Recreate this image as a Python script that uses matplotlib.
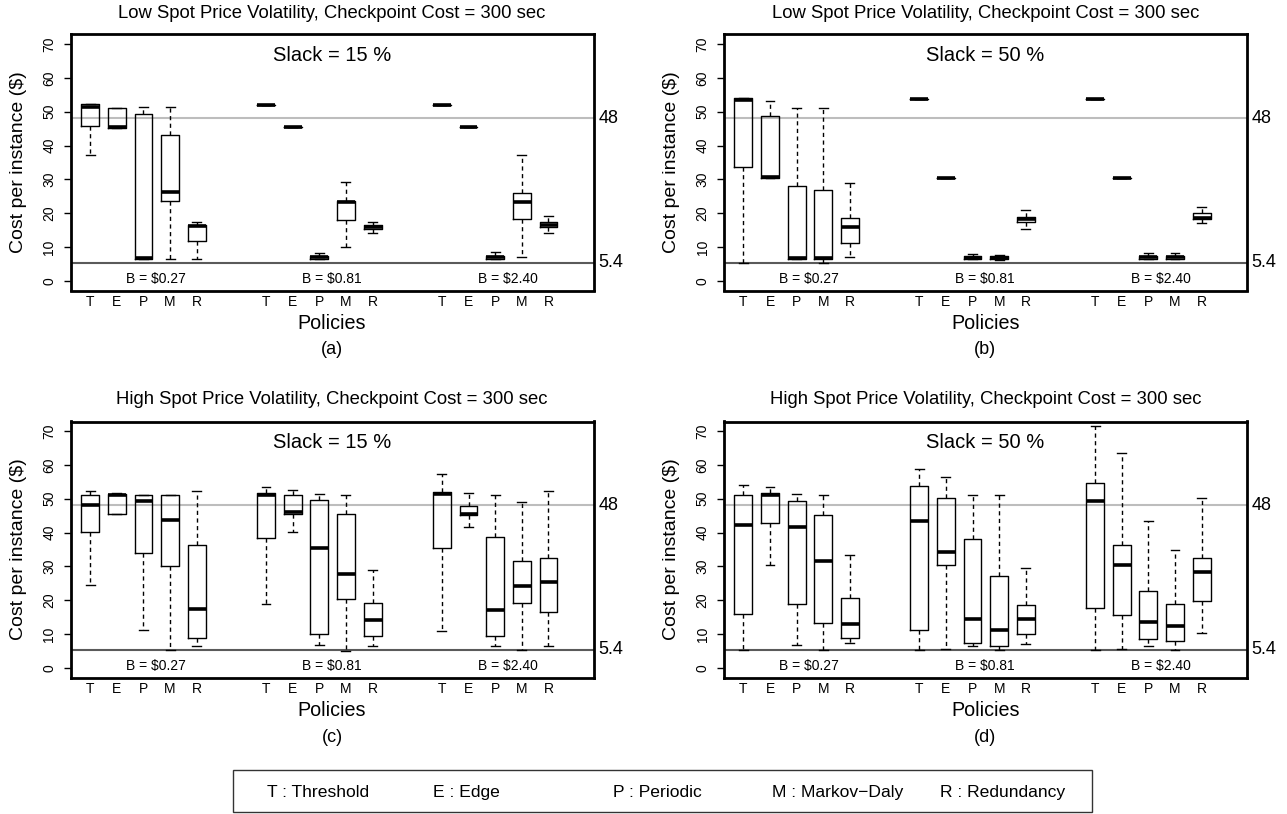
"""
Cost per instance box plots: 4 panels (low/high spot price volatility,
slack 15 % / 50 %), five checkpoint policies for three bid prices.
"""

import matplotlib
matplotlib.use("Agg")
import matplotlib.pyplot as plt
import matplotlib.transforms as mtransforms
from matplotlib.patches import Rectangle

# ── 1. Data ─────────────────────────────────────────────────────
POLICIES = ["T", "E", "P", "M", "R"]
BUDGETS = ["B = $0.27", "B = $0.81", "B = $2.40"]
TITLES = [
    "Low Spot Price Volatility, Checkpoint Cost = 300 sec",
    "Low Spot Price Volatility, Checkpoint Cost = 300 sec",
    "High Spot Price Volatility, Checkpoint Cost = 300 sec",
    "High Spot Price Volatility, Checkpoint Cost = 300 sec",
]
SLACKS = ["Slack = 15 %", "Slack = 50 %", "Slack = 15 %", "Slack = 50 %"]
TAGS = ["(a)", "(b)", "(c)", "(d)"]
REF_HIGH = 48
REF_LOW = 5.4
LEGEND_LABELS = ["T : Threshold", "E : Edge", "P : Periodic",
                 "M : Markov\u2212Daly", "R : Redundancy"]

# each list = T E P M R for B=$0.27, then B=$0.81, then B=$2.40
A_LO = [37.3, 45.3, 6.5, 6.4, 6.5, 52.0, 45.4, 6.5, 10.0, 14.3, 52.0, 45.4, 6.4, 7.1, 14.3]
A_Q1 = [45.7, 45.3, 6.5, 23.7, 11.9, 52.0, 45.4, 6.5, 17.9, 15.4, 52.0, 45.4, 6.4, 18.4, 15.9]
A_MED = [51.4, 45.5, 6.7, 26.2, 16.1, 52.0, 45.4, 7.0, 23.3, 15.9, 52.0, 45.4, 7.1, 23.3, 16.5]
A_Q3 = [52.2, 51.0, 49.3, 43.1, 16.4, 52.0, 45.4, 7.4, 23.6, 16.5, 52.0, 45.4, 7.5, 26.1, 17.5]
A_HI = [52.2, 51.2, 51.4, 51.4, 17.5, 52.0, 45.4, 8.3, 29.2, 17.5, 52.0, 45.4, 8.6, 37.2, 19.2]

B_LO = [5.3, 30.3, 6.5, 5.3, 7.2, 53.8, 30.5, 6.4, 6.2, 15.3, 53.8, 30.5, 6.4, 6.4, 17.1]
B_Q1 = [33.6, 30.3, 6.5, 6.5, 11.1, 53.8, 30.5, 6.4, 6.4, 17.5, 53.8, 30.5, 6.4, 6.4, 18.3]
B_MED = [53.6, 30.6, 6.8, 6.8, 15.9, 53.8, 30.5, 6.9, 6.9, 18.4, 53.8, 30.5, 7.0, 7.1, 18.7]
B_Q3 = [54.0, 48.7, 28.2, 26.9, 18.6, 53.8, 30.5, 7.3, 7.3, 19.0, 53.8, 30.5, 7.4, 7.5, 20.1]
B_HI = [54.0, 53.3, 51.2, 51.2, 28.8, 53.8, 30.5, 7.9, 7.6, 20.9, 53.8, 30.5, 8.3, 8.3, 21.8]

C_LO = [24.5, 45.4, 11.3, 5.4, 6.5, 19.0, 40.1, 6.8, 5.1, 6.4, 11.0, 41.6, 6.6, 5.2, 6.4]
C_Q1 = [40.1, 45.4, 34.0, 30.1, 8.9, 38.4, 45.5, 9.9, 20.4, 9.6, 35.5, 45.2, 9.6, 19.3, 16.5]
C_MED = [48.1, 51.1, 49.2, 43.7, 17.5, 51.2, 46.1, 35.5, 27.9, 14.1, 51.3, 45.6, 17.1, 24.1, 25.5]
C_Q3 = [51.1, 51.5, 51.1, 51.1, 36.3, 51.6, 51.2, 49.7, 45.6, 19.3, 52.0, 47.8, 38.6, 31.6, 32.6]
C_HI = [52.2, 51.7, 51.2, 51.2, 52.4, 53.6, 52.7, 51.4, 51.2, 29.0, 57.4, 51.6, 51.2, 48.9, 52.2]

D_LO = [5.4, 30.4, 6.7, 5.4, 7.4, 5.4, 5.6, 6.6, 5.4, 7.1, 5.4, 5.6, 6.6, 5.2, 10.2]
D_Q1 = [16.0, 42.7, 18.9, 13.4, 8.9, 11.2, 30.4, 7.5, 6.4, 10.1, 17.6, 15.7, 8.7, 8.1, 19.9]
D_MED = [42.2, 51.2, 41.7, 31.5, 12.9, 43.4, 34.3, 14.5, 11.1, 14.4, 49.4, 30.5, 13.6, 12.4, 28.3]
D_Q3 = [51.2, 51.7, 49.2, 45.1, 20.7, 53.8, 50.2, 38.2, 27.1, 18.7, 54.7, 36.3, 22.6, 19.0, 32.6]
D_HI = [54.0, 53.6, 51.4, 51.2, 33.5, 58.9, 56.3, 51.1, 51.1, 29.6, 71.4, 63.6, 43.4, 35.0, 50.3]

PANELS = [
    (A_LO, A_Q1, A_MED, A_Q3, A_HI),
    (B_LO, B_Q1, B_MED, B_Q3, B_HI),
    (C_LO, C_Q1, C_MED, C_Q3, C_HI),
    (D_LO, D_Q1, D_MED, D_Q3, D_HI),
]

# ── 2. Layout (pixels of a 1287 x 814 canvas) ───────────────────
DPI = 100
FIG_W, FIG_H = 1287, 814
AX_W, AX_H = 523, 256
AX_LEFT = [70.6, 723.8, 70.6, 723.8]
AX_TOP = [34.5, 34.5, 421.5, 421.5]
TITLE_GAP = [16, 16, 18, 18]

GROUP_STEP = 6.6
POS = [1 + g * GROUP_STEP + i for g in range(len(BUDGETS)) for i in range(len(POLICIES))]
XLIM = (0.265, 19.895)
YLIM = (-2.8, 72.8)
BOX_W = 0.67

plt.rcParams.update({
    "font.family": ["Liberation Sans", "DejaVu Sans"],
    "axes.linewidth": 2.0,
    "figure.facecolor": "white",
})

fig = plt.figure(figsize=(FIG_W / DPI, FIG_H / DPI), dpi=DPI)


def shifted(ax, dx_px, dy_px, base=None):
    base = ax.transAxes if base is None else base
    return base + mtransforms.ScaledTranslation(dx_px / DPI, dy_px / DPI, fig.dpi_scale_trans)


for k, (lo, q1, med, q3, hi) in enumerate(PANELS):
    rect = [AX_LEFT[k] / FIG_W, (FIG_H - AX_TOP[k] - AX_H) / FIG_H,
            AX_W / FIG_W, AX_H / FIG_H]
    ax = fig.add_axes(rect)

    ax.axhline(REF_HIGH, color="#bdbdbd", linewidth=1.5, zorder=1)
    ax.axhline(REF_LOW, color="#5a5a5a", linewidth=1.5, zorder=1)

    stats = [dict(whislo=a, q1=b, med=c, q3=d, whishi=e)
             for a, b, c, d, e in zip(lo, q1, med, q3, hi)]
    ax.bxp(stats, positions=POS, widths=BOX_W, capwidths=BOX_W / 2,
           showfliers=False, manage_ticks=False,
           boxprops=dict(color="black", linewidth=1.0),
           whiskerprops=dict(color="black", linewidth=1.0, linestyle=(0, (3, 2.5))),
           capprops=dict(color="black", linewidth=1.0),
           medianprops=dict(color="black", linewidth=2.6, solid_capstyle="butt"))

    ax.set_xlim(*XLIM)
    ax.set_ylim(*YLIM)

    # x: policy letters, no tick marks
    ax.set_xticks(POS)
    ax.set_xticklabels(POLICIES * len(BUDGETS), fontsize=10)
    ax.tick_params(axis="x", length=0, pad=11.5)
    for lab in ax.get_xticklabels():
        lab.set_verticalalignment("baseline")

    # y: rotated numbers, R style
    ax.set_yticks(range(0, 80, 10))
    ax.set_yticklabels([str(v) for v in range(0, 80, 10)], fontsize=10,
                       rotation=90)
    ax.tick_params(axis="y", length=5, width=1, direction="out", pad=10.3)
    for lab in ax.get_yticklabels():
        lab.set_horizontalalignment("center")
        lab.set_verticalalignment("center")

    ax.text(0, 0.5, "Cost per instance ($)", transform=shifted(ax, -52, 0),
            rotation=90, ha="center", va="center", fontsize=14)

    # budget labels inside the frame, slack label at the top
    for g, budget in enumerate(BUDGETS):
        ax.text(POS[g * 5 + 2] + 0.47, -0.7, budget, fontsize=10,
                ha="center", va="baseline")
    ax.text(0.5, 64.9, SLACKS[k], fontsize=14.5, ha="center", va="baseline",
            transform=mtransforms.blended_transform_factory(ax.transAxes, ax.transData))

    # reference values outside on the right
    right = mtransforms.blended_transform_factory(ax.transAxes, ax.transData)
    ax.text(1, REF_HIGH, "48", fontsize=13, ha="left", va="center",
            transform=shifted(ax, 5, 0, right))
    ax.text(1, REF_LOW, "5.4", fontsize=13, ha="left", va="center",
            transform=shifted(ax, 5, 0, right))

    ax.text(0.5, 1, TITLES[k], fontsize=13.3, ha="center", va="baseline",
            transform=shifted(ax, 0, TITLE_GAP[k]))
    ax.text(0.5, 0, "Policies", fontsize=14.2, ha="center", va="baseline",
            transform=shifted(ax, 0, -38.6))
    ax.text(0.5, 0, TAGS[k], fontsize=13, ha="center", va="baseline",
            transform=shifted(ax, 0, -64))

# ── 3. Shared legend box at the bottom ──────────────────────────
LEG_LEFT, LEG_RIGHT = 233.3, 1092
LEG_TOP, LEG_BOTTOM = 770, 812.3
LEG_TEXT_X = [266.7, 433.3, 613.3, 771.7, 940]
LEG_BASELINE = 797.3

fig.patches.append(Rectangle(
    (LEG_LEFT / FIG_W, 1 - LEG_BOTTOM / FIG_H),
    (LEG_RIGHT - LEG_LEFT) / FIG_W, (LEG_BOTTOM - LEG_TOP) / FIG_H,
    transform=fig.transFigure, fill=False, edgecolor="#333333", linewidth=1.0))
for x, label in zip(LEG_TEXT_X, LEGEND_LABELS):
    fig.text(x / FIG_W, 1 - LEG_BASELINE / FIG_H, label, fontsize=12.6,
             ha="left", va="baseline")

fig.savefig("out.png", dpi=DPI, facecolor="white")
